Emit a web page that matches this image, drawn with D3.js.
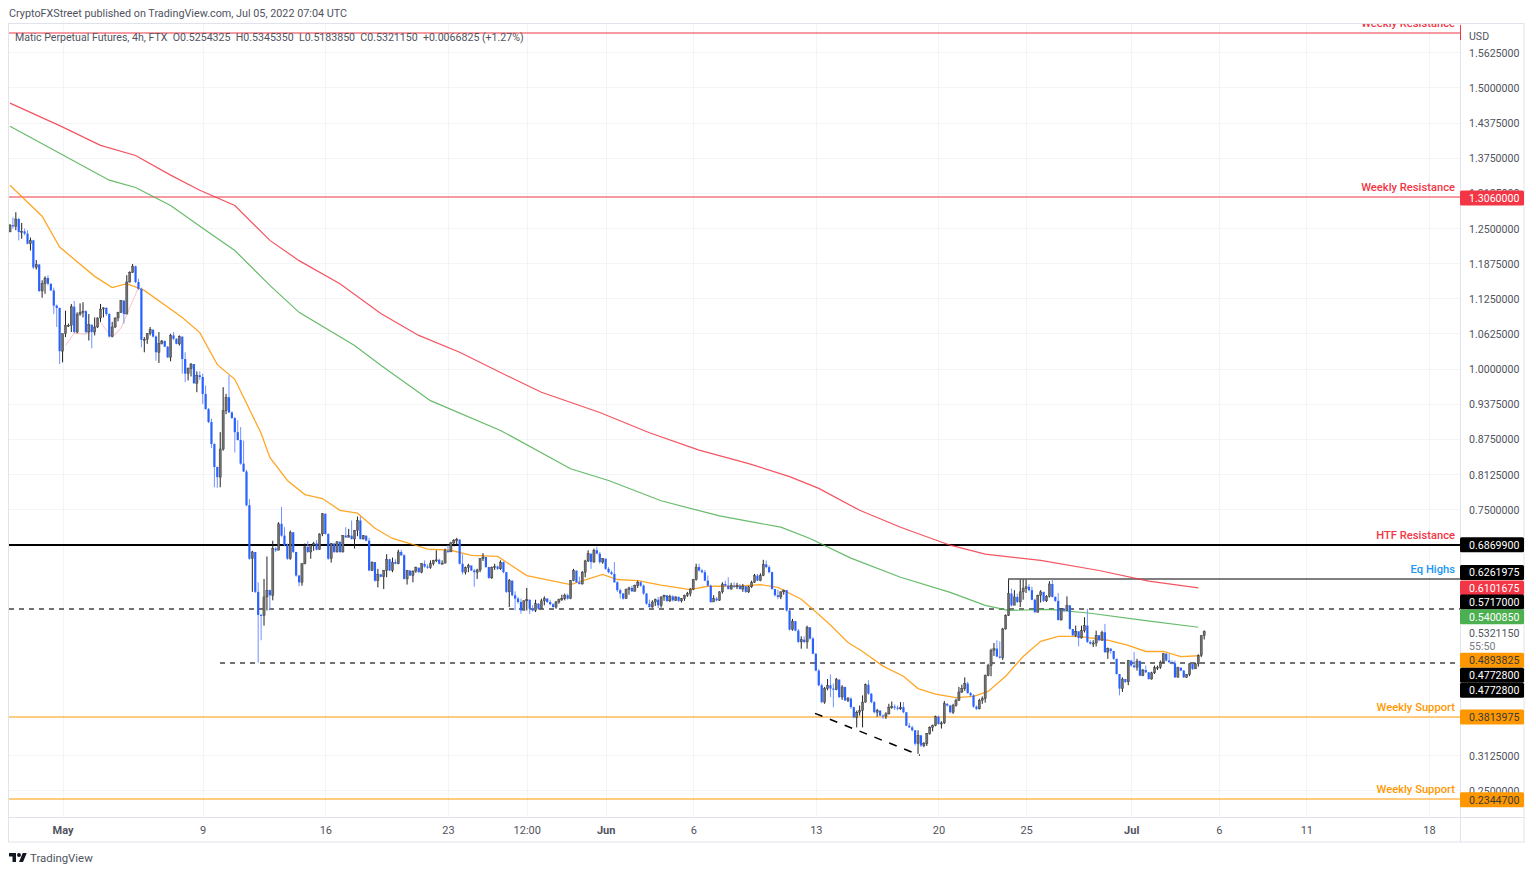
<!DOCTYPE html>
<html>
<head>
<meta charset="utf-8">
<script src="https://cdnjs.cloudflare.com/ajax/libs/d3/7.8.5/d3.min.js"></script>
<style>
html, body { margin: 0; padding: 0; background: #fff; }
svg { display: block; }
text { font-family: "Roboto", "Liberation Sans", sans-serif; }
</style>
</head>
<body>
<svg id="chart" width="1536" height="873"></svg>
<script>
// 4h candles, one row per 10 candles. open is the close before it
var firstOpen = 1.243;
var closes = [
1.255,1.253,1.266,1.243,1.244,1.240,1.222,1.228,1.180,1.185,
1.138,1.151,1.161,1.151,1.139,1.112,1.108,1.031,1.062,1.077,
1.077,1.110,1.065,1.097,1.100,1.102,1.065,1.078,1.065,1.074,
1.090,1.106,1.108,1.097,1.057,1.074,1.090,1.100,1.121,1.097,
1.154,1.171,1.182,1.154,1.142,1.051,1.052,1.062,1.069,1.057,
1.029,1.045,1.049,1.039,1.020,1.059,1.053,1.044,1.057,1.017,
.991,1.000,1.008,.974,.988,.985,.955,.928,.905,.866,
.825,.807,.857,.925,.949,.922,.912,.887,.873,.831,
.817,.757,.662,.674,.603,.562,.561,.594,.606,.597,
.680,.677,.724,.703,.686,.662,.709,.674,.632,.620,
.653,.683,.674,.686,.689,.678,.706,.742,.706,.662,
.689,.674,.692,.674,.703,.700,.703,.697,.712,.730,
.697,.703,.694,.641,.656,.623,.634,.630,.641,.661,
.641,.656,.653,.674,.668,.626,.641,.632,.640,.646,
.638,.653,.648,.646,.653,.659,.660,.653,.654,.676,
.674,.690,.694,.696,.653,.638,.646,.650,.641,.638,
.642,.662,.665,.647,.628,.646,.648,.644,.656,.638,
.603,.623,.597,.591,.585,.570,.587,.589,.573,.570,
.582,.573,.587,.591,.585,.581,.576,.585,.589,.591,
.597,.591,.623,.641,.620,.617,.638,.658,.671,.656,
.677,.671,.656,.662,.644,.638,.635,.620,.606,.600,
.591,.607,.610,.604,.614,.620,.614,.600,.582,.576,
.585,.589,.579,.594,.597,.587,.595,.588,.594,.587,
.591,.597,.600,.608,.625,.647,.641,.638,.623,.614,
.585,.591,.588,.603,.617,.614,.608,.614,.612,.614,
.608,.613,.603,.612,.620,.632,.623,.632,.652,.647,
.638,.608,.597,.594,.603,.606,.570,.536,.551,.534,
.514,.518,.514,.540,.520,.493,.463,.437,.407,.431,
.437,.431,.429,.447,.416,.434,.410,.413,.398,.380,
.389,.392,.407,.438,.422,.407,.389,.392,.383,.382,
.386,.398,.399,.397,.395,.398,.389,.365,.362,.357,
.333,.348,.330,.333,.351,.362,.365,.381,.368,.370,
.404,.401,.389,.401,.410,.425,.431,.440,.423,.419,
.399,.395,.410,.413,.454,.472,.499,.502,.488,.486,
.537,.561,.600,.579,.594,.585,.603,.609,.612,.606,
.589,.567,.597,.603,.587,.595,.617,.594,.587,.553,
.573,.570,.579,.537,.526,.533,.521,.534,.543,.514,
.511,.512,.526,.517,.531,.496,.502,.498,.484,.457,
.431,.448,.443,.481,.472,.469,.480,.454,.464,.460,
.448,.459,.468,.469,.478,.493,.481,.478,.476,.451,
.468,.463,.451,.456,.475,.466,.475,.490,.5254325,.532115
];
var highs = [
1.257,1.269,1.278,1.268,1.259,1.249,1.246,1.233,1.229,1.193,
1.186,1.157,1.164,1.166,1.151,1.144,1.114,1.108,1.062,1.103,
1.080,1.115,1.120,1.100,1.116,1.118,1.104,1.097,1.078,1.091,
1.091,1.115,1.109,1.109,1.099,1.083,1.091,1.101,1.122,1.121,
1.166,1.173,1.186,1.183,1.160,1.144,1.056,1.063,1.074,1.070,
1.059,1.065,1.051,1.050,1.040,1.062,1.065,1.054,1.059,1.045,
1.029,1.002,1.010,1.008,.995,.995,.991,.970,.930,.911,
.867,.826,.887,.967,.955,.988,.924,.914,.908,.896,
.872,.820,.768,.676,.672,.620,.564,.626,.666,.607,
.694,.683,.727,.754,.718,.689,.712,.709,.668,.633,
.654,.689,.693,.687,.692,.695,.707,.743,.742,.707,
.690,.689,.693,.693,.704,.718,.715,.730,.713,.737,
.737,.704,.703,.699,.657,.656,.644,.635,.642,.670,
.662,.664,.661,.678,.678,.670,.642,.641,.641,.648,
.646,.654,.659,.652,.659,.660,.677,.662,.659,.680,
.686,.692,.697,.699,.696,.670,.648,.653,.648,.644,
.644,.663,.672,.665,.648,.648,.653,.650,.659,.657,
.638,.626,.623,.604,.594,.591,.588,.610,.589,.579,
.589,.583,.591,.595,.592,.589,.583,.587,.591,.598,
.600,.600,.624,.644,.636,.630,.640,.660,.677,.670,
.680,.683,.674,.663,.662,.647,.641,.656,.622,.609,
.601,.609,.612,.614,.616,.623,.622,.616,.601,.589,
.588,.591,.594,.595,.598,.597,.598,.597,.595,.595,
.592,.598,.603,.610,.626,.653,.653,.644,.642,.632,
.616,.597,.594,.604,.620,.623,.629,.619,.620,.619,
.617,.617,.613,.614,.623,.635,.635,.636,.660,.659,
.650,.639,.608,.607,.604,.607,.606,.571,.555,.551,
.537,.524,.524,.543,.540,.523,.494,.466,.440,.434,
.448,.456,.440,.450,.447,.437,.434,.416,.416,.399,
.392,.401,.419,.440,.446,.423,.409,.395,.392,.385,
.389,.404,.408,.403,.401,.407,.407,.389,.370,.365,
.357,.357,.348,.336,.352,.364,.367,.383,.383,.373,
.409,.405,.402,.404,.413,.434,.438,.451,.443,.425,
.421,.401,.413,.417,.456,.475,.502,.512,.517,.515,
.539,.563,.625,.609,.606,.600,.625,.625,.625,.617,
.612,.591,.598,.606,.603,.597,.622,.625,.595,.601,
.574,.574,.595,.579,.537,.543,.531,.543,.558,.573,
.517,.517,.534,.526,.534,.546,.504,.503,.496,.484,
.457,.451,.448,.482,.481,.496,.484,.481,.466,.472,
.460,.461,.472,.472,.481,.494,.494,.493,.481,.481,
.470,.469,.464,.457,.476,.475,.477,.492,.5256,.534535
];
var lows = [
1.243,1.249,1.246,1.228,1.231,1.237,1.221,1.210,1.177,1.176,
1.136,1.126,1.133,1.148,1.138,1.097,1.074,1.008,1.011,1.056,
1.074,1.065,1.063,1.063,1.094,1.091,1.062,1.050,1.036,1.059,
1.072,1.083,1.091,1.094,1.055,1.056,1.072,1.084,1.099,1.080,
1.097,1.153,1.170,1.152,1.140,1.038,1.029,1.044,1.059,1.055,
1.014,1.010,1.043,1.038,1.019,1.013,1.051,1.043,1.041,.991,
.976,.979,.986,.973,.958,.980,.937,.927,.903,.859,
.789,.788,.789,.854,.919,.921,.911,.851,.872,.829,
.816,.755,.660,.603,.601,.477,.517,.543,.570,.570,
.588,.674,.678,.701,.684,.660,.660,.672,.630,.613,
.614,.652,.672,.662,.676,.677,.678,.702,.705,.660,
.655,.672,.673,.672,.673,.699,.700,.696,.680,.702,
.696,.696,.693,.640,.640,.621,.611,.629,.608,.629,
.640,.638,.652,.652,.667,.625,.616,.631,.620,.637,
.637,.636,.646,.644,.644,.650,.656,.652,.652,.655,
.672,.674,.684,.686,.652,.634,.634,.638,.640,.612,
.626,.638,.658,.646,.626,.626,.642,.642,.642,.636,
.601,.576,.595,.570,.582,.564,.573,.570,.564,.568,
.567,.571,.573,.579,.583,.579,.575,.573,.582,.587,
.588,.589,.590,.622,.619,.616,.616,.629,.656,.644,
.655,.670,.653,.653,.642,.636,.633,.619,.603,.591,
.589,.591,.598,.603,.604,.610,.612,.598,.580,.575,
.575,.578,.574,.575,.587,.585,.585,.586,.587,.585,
.584,.587,.594,.595,.606,.623,.639,.636,.622,.612,
.583,.589,.586,.587,.600,.613,.607,.607,.610,.608,
.607,.603,.601,.601,.610,.619,.622,.622,.631,.645,
.636,.607,.595,.590,.590,.598,.568,.534,.534,.533,
.512,.502,.512,.502,.518,.492,.462,.435,.405,.404,
.428,.416,.398,.428,.414,.411,.409,.407,.395,.378,
.362,.383,.362,.406,.420,.405,.387,.381,.382,.377,
.377,.385,.395,.393,.392,.393,.387,.364,.361,.355,
.330,.315,.327,.327,.329,.349,.355,.364,.367,.360,
.368,.399,.387,.386,.399,.409,.423,.427,.422,.417,
.397,.393,.394,.404,.406,.453,.453,.489,.487,.484,
.482,.536,.560,.577,.581,.583,.576,.589,.601,.604,
.588,.565,.566,.584,.585,.585,.593,.593,.585,.552,
.552,.567,.569,.536,.524,.523,.506,.520,.531,.512,
.509,.505,.506,.515,.516,.494,.484,.493,.482,.456,
.419,.425,.441,.437,.470,.467,.463,.453,.453,.459,
.447,.447,.457,.464,.466,.476,.479,.476,.474,.450,
.451,.462,.450,.450,.453,.464,.469,.470,.487,.518385
];

// moving averages, read at these candle numbers
var orangeAt = [0,11,17,29,35,40,46,59,65,71,77,86,89,95,101,107,113,119,125,131,137,143,151,158,167,177,192,203,208,215,223,233,239,249,257,263,271,275,281,287,292,299,306,311,317,324,330,335,341,347,353,359,366,376,383,389,395,401,407];
var orangeMa = [1.326,1.271,1.216,1.164,1.144,1.151,1.139,1.091,1.064,1.007,.981,.885,.842,.801,.776,.769,.748,.743,.716,.698,.689,.679,.677,.668,.666,.632,.616,.634,.625,.623,.615,.607,.613,.613,.616,.611,.590,.572,.544,.513,.497,.471,.453,.431,.421,.415,.417,.426,.453,.488,.515,.524,.524,.517,.508,.497,.497,.488,.4894];
var redAt = [0,17,31,43,55,65,77,89,99,113,127,140,154,168,182,202,219,236,253,267,277,291,305,322,334,353,373,390,407];
var redMa = [1.472,1.432,1.397,1.379,1.344,1.317,1.290,1.228,1.192,1.151,1.098,1.059,1.029,.993,.958,.922,.886,.855,.831,.808,.787,.748,.718,.686,.670,.659,.641,.622,.6102];
var greenAt = [0,17,34,43,55,67,77,89,99,118,127,144,168,192,205,223,243,264,274,288,305,322,334,342,356,370,389,407];
var greenMa = [1.431,1.383,1.335,1.322,1.290,1.246,1.210,1.148,1.100,1.041,1.006,.943,.890,.822,.801,.765,.738,.718,.698,.663,.629,.602,.579,.570,.572,.565,.552,.5401];
var pinkAt = [19,22,26,31,35,38,44];
var pinkMa = [1.041,1.063,1.061,1.082,1.055,1.072,1.144];

var priceTicks = [1.5625,1.5,1.4375,1.375,1.3125,1.25,1.1875,1.125,1.0625,1,.9375,.875,.8125,.75,.3125,.25];
var timeTicks = [18,66,108,150,177,204,234,276,318,348,384,414,444,486];
var timeLabels = ["May","9","16","23","12:00","Jun","6","13","20","25","Jul","6","11","18"];

var levelPrices = [1.596,1.306,.68699,.6261975,.5717,.47728,.3813975,.23447];
var levelNames = ["Weekly Resistance","Weekly Resistance","HTF Resistance","Eq Highs","","","Weekly Support","Weekly Support"];
var tagPrices = [1.306,.68699,.6261975,.6101675,.5717,.540085,.4893825,.47728,.47728,.3813975,.23447];

var svg = d3.select("#chart");

var x = d3.scaleLinear().domain([0,486]).range([10,1429]);
var y = d3.scaleLinear().domain([.25,1.5]).range([790.4,87.4]);

var paneL = 9, paneR = 1460, paneT = 24, paneB = 817, far = 1524, foot = 842;

var snap = function(v){ return Math.round(v)+.5; };

svg.append("clipPath").attr("id","pane").append("rect")
    .attr("x",paneL).attr("y",paneT).attr("width",paneR-paneL).attr("height",paneB-paneT);

// grid
svg.append("g").selectAll("line").data(priceTicks).enter().append("line")
    .attr("x1",paneL).attr("x2",paneR)
    .attr("y1",function(d){return snap(y(d));})
    .attr("y2",function(d){return snap(y(d));})
    .attr("stroke","#f3f4f7");
svg.append("g").selectAll("line").data(timeTicks).enter().append("line")
    .attr("x1",function(d){return snap(x(d));})
    .attr("x2",function(d){return snap(x(d));})
    .attr("y1",paneT).attr("y2",paneB)
    .attr("stroke","#f3f4f7");

var pane = svg.append("g").attr("clip-path","url(#pane)");

// levels
var lineStyles = [
    {c:"#f23645",w:1.2,dash:null,from:paneL},
    {c:"#f23645",w:1.2,dash:null,from:paneL},
    {c:"#000",w:2,dash:null,from:paneL},
    {c:"#555",w:1.5,dash:null,from:1008},
    {c:"#444",w:1.5,dash:"5,5",from:paneL},
    {c:"#444",w:1.5,dash:"5,5",from:220},
    {c:"#ff9800",w:1.2,dash:null,from:paneL},
    {c:"#ff9800",w:1.2,dash:null,from:paneL}
];
pane.selectAll(".level").data(levelPrices).enter().append("line")
    .attr("class","level")
    .attr("x1",function(d,i){return lineStyles[i].from;})
    .attr("x2",paneR)
    .attr("y1",function(d){return Math.round(y(d));})
    .attr("y2",function(d){return Math.round(y(d));})
    .attr("stroke",function(d,i){return lineStyles[i].c;})
    .attr("stroke-width",function(d,i){return lineStyles[i].w;})
    .attr("stroke-dasharray",function(d,i){return lineStyles[i].dash;});

// averages
var drawMa = function(at, vals, colour, width, op){
    var line = d3.line()
        .x(function(d,i){return x(at[i]);})
        .y(function(d){return y(d);});
    pane.append("path").datum(vals)
        .attr("d",line)
        .attr("fill","none")
        .attr("stroke",colour)
        .attr("stroke-width",width)
        .attr("opacity",op);
};
drawMa(redAt,redMa,"#f23645",1.2,.85);
drawMa(greenAt,greenMa,"#4caf50",1.2,.85);
drawMa(orangeAt,orangeMa,"#ff9800",1.3,.85);
drawMa(pinkAt,pinkMa,"#f23645",1,.3);

// candles
var candles = closes.map(function(c,i){
    return {i:i, o:i==0 ? firstOpen : closes[i-1], c:c, h:highs[i], l:lows[i]};
});
var isUp = function(d){ return d.c >= d.o; };

pane.selectAll(".wick").data(candles).enter().append("line")
    .attr("class","wick")
    .attr("x1",function(d){return x(d.i);})
    .attr("x2",function(d){return x(d.i);})
    .attr("y1",function(d){return y(d.h);})
    .attr("y2",function(d){return y(d.l);})
    .attr("stroke",function(d){return isUp(d) ? "#222" : "#6f92ff";})
    .attr("stroke-width",1);

pane.selectAll(".body").data(candles).enter().append("rect")
    .attr("class","body")
    .attr("x",function(d){return x(d.i)-1.1;})
    .attr("width",2.2)
    .attr("y",function(d){return y(Math.max(d.o,d.c));})
    .attr("height",function(d){return Math.max(1,Math.abs(y(d.o)-y(d.c)));})
    .attr("fill",function(d){return isUp(d) ? "#6e6e6e" : "#2962ff";})
    .attr("stroke",function(d){return isUp(d) ? "#333" : "none";})
    .attr("stroke-width",.4);

// trend line under the lows
pane.append("line")
    .attr("x1",x(275.7)).attr("y1",y(.387))
    .attr("x2",x(311.6)).attr("y2",y(.3125))
    .attr("stroke","#000").attr("stroke-width",1.5).attr("stroke-dasharray","8,8");

// level names
var nameColours = ["#f23645","#f23645","#f23645","#2196f3","","","#ff9800","#ff9800"];
pane.selectAll(".name").data(levelNames).enter().append("text")
    .attr("class","name")
    .attr("x",1455)
    .attr("y",function(d,i){return y(levelPrices[i])-6;})
    .attr("text-anchor","end")
    .attr("font-size",11.2)
    .attr("font-weight",500)
    .attr("fill",function(d,i){return nameColours[i];})
    .text(function(d){return d;});

// frame
svg.append("rect").attr("x",8.5).attr("y",paneT-.5).attr("width",far-8.5).attr("height",foot-paneT+.5)
    .attr("fill","none").attr("stroke","#e0e3eb");
svg.append("line").attr("x1",8.5).attr("x2",far).attr("y1",paneB+.5).attr("y2",paneB+.5).attr("stroke","#e0e3eb");
svg.append("line").attr("x1",paneR+.5).attr("x2",paneR+.5).attr("y1",paneT).attr("y2",foot).attr("stroke","#e0e3eb");
svg.append("line").attr("x1",paneR+.5).attr("x2",paneR+.5).attr("y1",25).attr("y2",40).attr("stroke","#f23645");

// axes
var priceAxis = d3.axisRight(y).tickValues(priceTicks).tickSize(0).tickPadding(0)
    .tickFormat(function(d){return d.toFixed(7);});
var pa = svg.append("g").attr("transform","translate(1469,.6)").call(priceAxis);
pa.select(".domain").remove();
pa.selectAll("text").attr("font-size",10.6).attr("fill","#50535e").attr("font-family","Roboto");

var timeAxis = d3.axisBottom(x).tickValues(timeTicks).tickSize(0).tickPadding(0)
    .tickFormat(function(d,i){return timeLabels[i];});
var ta = svg.append("g").attr("transform","translate(0,826)").call(timeAxis);
ta.select(".domain").remove();
ta.selectAll("text").attr("font-size",11).attr("fill","#50535e").attr("font-family","Roboto")
    .attr("font-weight",function(d,i){return isNaN(+timeLabels[i]) && timeLabels[i]!="12:00" ? 700 : 400;});

// price tags on the axis
var tagNudge = [1.6,.1,-6.4,.1,-7.4,-10.4,4.6,12.6,27.6,.6,.6];
var tagFill = ["#f23645","#000","#000","#f23645","#000","#4caf50","#ff9800","#000","#000","#ff9800","#ff9800"];
var tagText = ["#fff","#fff","#fff","#fff","#fff","#fff","#3a3a3a","#fff","#fff","#3a3a3a","#3a3a3a"];
var tags = svg.append("g").selectAll("g").data(tagPrices).enter().append("g")
    .attr("transform",function(d,i){return "translate(1460,"+(y(d)+tagNudge[i])+")";});
tags.append("rect").attr("x",0).attr("y",-7.5).attr("width",64).attr("height",15).attr("rx",1.5)
    .attr("fill",function(d,i){return tagFill[i];});
tags.append("text").attr("x",9).attr("y",4)
    .attr("font-size",10.6)
    .attr("fill",function(d,i){return tagText[i];})
    .text(function(d){return d.toFixed(7);});

svg.append("text").attr("x",1469).attr("y",637).attr("font-size",10.6).attr("fill","#50535e").text((closes[409]).toFixed(7));
svg.append("text").attr("x",1469).attr("y",650).attr("font-size",10.6).attr("fill","#787b86").text("55:50");
svg.append("text").attr("x",1469).attr("y",40).attr("font-size",10.6).attr("fill","#50535e").text("USD");

// header, legend and logo
svg.append("text").attr("x",9).attr("y",17).attr("font-size",10.8).attr("fill","#50535e")
    .text("CryptoFXStreet published on TradingView.com, Jul 05, 2022 07:04 UTC");
svg.append("text").attr("x",15).attr("y",41).attr("font-size",10.6).attr("fill","#50535e").style("white-space","pre")
    .text("Matic Perpetual Futures, 4h, FTX  O0.5254325  H0.5345350  L0.5183850  C0.5321150  +0.0066825 (+1.27%)");

var logo = svg.append("g").attr("transform","translate(9,851) scale(.5)").attr("fill","#131722");
logo.append("path").attr("d","M14 22H7V11H0V4h14v18zM28 22h-8l7.5-18h8L28 22z");
logo.append("circle").attr("cx",20).attr("cy",8).attr("r",4);
svg.append("text").attr("x",30).attr("y",862).attr("font-size",11.4).attr("fill","#50535e").text("TradingView");
</script>
</body>
</html>
